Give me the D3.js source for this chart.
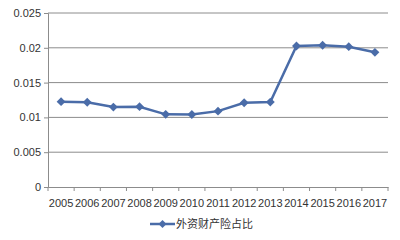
<!DOCTYPE html>
<html lang="zh">
<head>
<meta charset="utf-8">
<script src="https://cdn.jsdelivr.net/npm/d3@7"></script>
<style>
  body { margin: 0; background: #fff; }
  text { font-family: "Liberation Sans", "Noto Sans CJK SC", sans-serif; fill: #333; }
</style>
</head>
<body>
<script>
var years = ["2005","2006","2007","2008","2009","2010","2011","2012","2013","2014","2015","2016","2017"];
var share = [0.01226, 0.01217, 0.01148, 0.01154, 0.01044, 0.01042, 0.0109, 0.0121, 0.0122, 0.02026, 0.02036, 0.02016, 0.01935];
var yTicks = [0, 0.005, 0.01, 0.015, 0.02, 0.025];
var seriesName = "外资财产险占比";

var margin = {top: 13, right: 12, bottom: 53, left: 48},
    width = 400 - margin.left - margin.right,
    height = 240 - margin.top - margin.bottom;

var svg = d3.select("body").append("svg")
    .attr("width", 400)
    .attr("height", 240);

var g = svg.append("g")
    .attr("transform", "translate(" + margin.left + "," + margin.top + ")");

var x = d3.scaleBand().domain(years).range([0, width]);
var y = d3.scaleLinear().domain([0, 0.025]).range([height, 0]);

// gridlines
g.selectAll(".grid")
  .data(yTicks.slice(1))
  .enter().append("line")
  .attr("x1", 0).attr("x2", width)
  .attr("y1", function(d) { return y(d); })
  .attr("y2", function(d) { return y(d); })
  .attr("stroke", "#8c8c8c").attr("stroke-width", 1);

// y axis
var yAxis = g.append("g")
  .call(d3.axisLeft(y).tickValues(yTicks).tickFormat(function(d) { return String(+d.toFixed(3)); }).tickSize(4).tickPadding(3));
yAxis.select(".domain").attr("stroke", "#8c8c8c");
yAxis.selectAll(".tick line").attr("stroke", "#8c8c8c");
yAxis.selectAll("text").style("font-size", "11px").attr("fill", "#333");

// x axis
var xAxis = g.append("g")
  .attr("transform", "translate(0," + height + ")")
  .call(d3.axisBottom(x).tickSize(0).tickPadding(12));
xAxis.select(".domain").attr("stroke", "#8c8c8c");
xAxis.selectAll("text").style("font-size", "11px").attr("fill", "#333");
g.selectAll(".xt")
  .data(years.concat(["end"]))
  .enter().append("line")
  .attr("x1", function(d, i) { return i * x.step(); })
  .attr("x2", function(d, i) { return i * x.step(); })
  .attr("y1", height).attr("y2", height + 4)
  .attr("stroke", "#8c8c8c");

var cx = function(d, i) { return x(years[i]) + x.bandwidth() / 2; };

g.append("path")
  .datum(share)
  .attr("fill", "none")
  .attr("stroke", "#4a6ca8")
  .attr("stroke-width", 2.5)
  .attr("d", d3.line().x(cx).y(function(d) { return y(d); }));

var diamond = d3.symbol().type(d3.symbolDiamond2).size(50);
g.selectAll(".pt")
  .data(share)
  .enter().append("path")
  .attr("d", diamond)
  .attr("fill", "#4a6ca8")
  .attr("transform", function(d, i) { return "translate(" + cx(d, i) + "," + y(d) + ")"; });

// legend
var lg = svg.append("g").attr("transform", "translate(150,224)");
lg.append("line").attr("x1", 0).attr("x2", 25).attr("y1", 0).attr("y2", 0)
  .attr("stroke", "#4a6ca8").attr("stroke-width", 2.5);
lg.append("path").attr("d", d3.symbol().type(d3.symbolDiamond2).size(40))
  .attr("transform", "translate(12.5,0)").attr("fill", "#4a6ca8");
lg.append("text").attr("x", 26).attr("y", 0).attr("dy", "0.35em")
  .style("font-size", "11px").text(seriesName);
</script>
</body>
</html>
